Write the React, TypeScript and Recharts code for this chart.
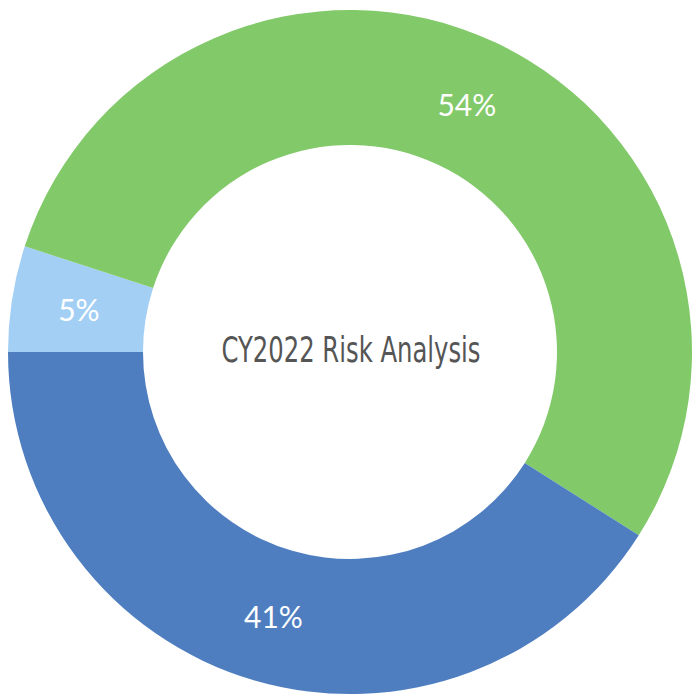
import { PieChart, Pie, Cell, Label } from 'recharts';

const categories = ['Low', 'Medium', 'High'];
const shares = [5, 54, 41];
const colors = ['#a3cff5', '#82c96a', '#4e7ec0'];
const centerTitle = 'CY2022 Risk Analysis';

const chartData = categories.map((name, i) => ({ name, value: shares[i], color: colors[i] }));

const RADIAN = Math.PI / 180;

const renderLabel = ({ cx, cy, midAngle, innerRadius, outerRadius, value }: any) => {
  const r = (innerRadius + outerRadius) / 2;
  const x = cx + r * Math.cos(-midAngle * RADIAN);
  const y = cy + r * Math.sin(-midAngle * RADIAN);
  return (
    <text
      x={x}
      y={y}
      fill="#ffffff"
      textAnchor="middle"
      dominantBaseline="central"
      fontFamily="Lato, Roboto, sans-serif"
      fontWeight={400}
      fontSize={30}
    >
      {`${value}%`}
    </text>
  );
};

const App = () => {
  return (
    <div style={{ width: 692, height: 698 }}>
      <style>{'html, body { margin: 0; padding: 0; overflow: hidden; }'}</style>
      <PieChart width={692} height={698} margin={{ top: 0, right: 0, bottom: 0, left: 0 }}>
        <Pie
          data={chartData}
          dataKey="value"
          cx={350}
          cy={352}
          innerRadius={207}
          outerRadius={342}
          startAngle={180}
          endAngle={-180}
          stroke="none"
          label={renderLabel}
          labelLine={false}
          isAnimationActive={false}
        >
          {chartData.map((entry, index) => (
            <Cell key={`cell-${index}`} fill={entry.color} />
          ))}
          <Label
            value={centerTitle}
            position="center"
            fill="#555555"
            fontSize={36}
            dx={5}
            fontFamily="'DejaVu Sans Condensed', 'Liberation Sans Narrow', sans-serif"
            textLength={259}
            lengthAdjust="spacingAndGlyphs"
          />
        </Pie>
      </PieChart>
    </div>
  );
};

export default App;
